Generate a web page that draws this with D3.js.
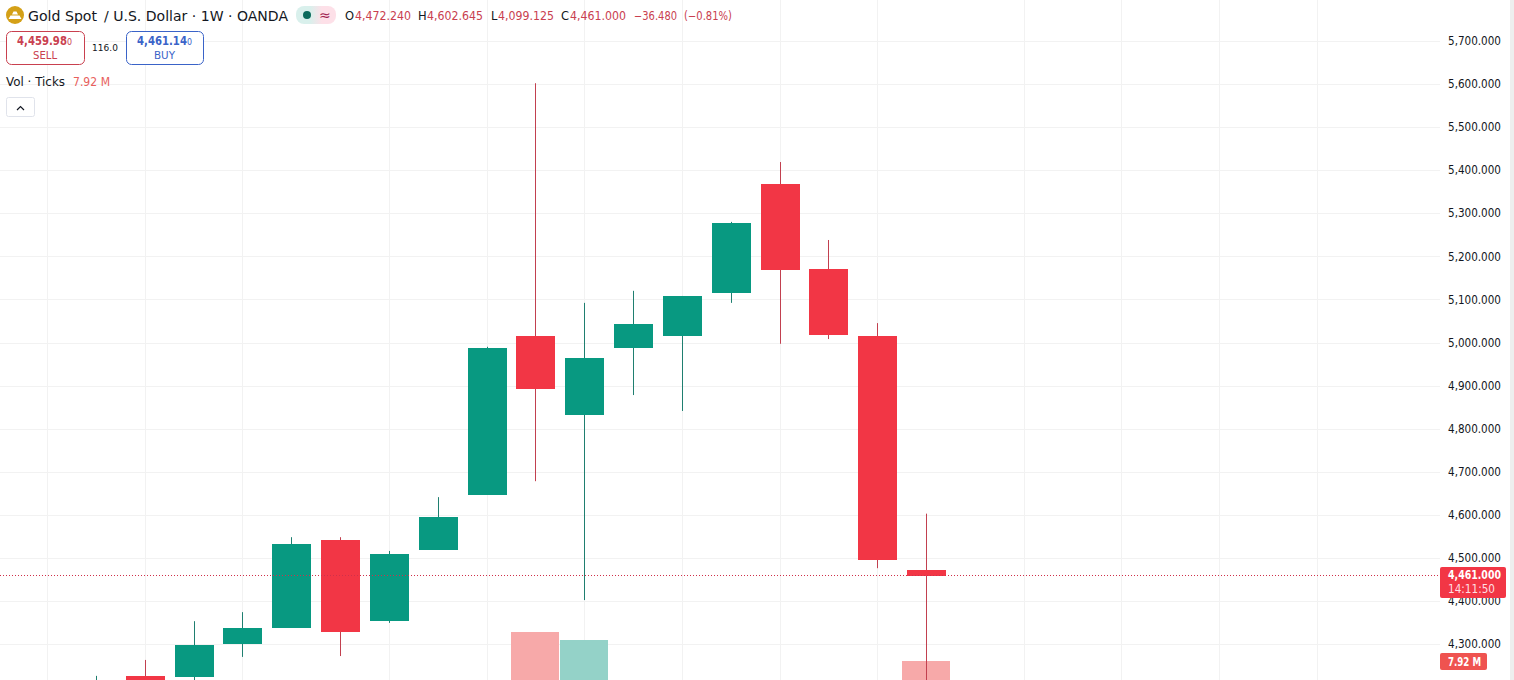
<!DOCTYPE html>
<html><head><meta charset="utf-8">
<script src="https://cdn.jsdelivr.net/npm/d3@7"></script>
<style>
html,body{margin:0;padding:0;background:#fff;overflow:hidden}
svg{display:block}
text{font-family:"DejaVu Sans",Verdana,sans-serif}
</style></head><body><svg id="c" width="1514" height="680"></svg>
<script>
const slots=d3.range(0,27).map(i=>"W"+String(i).padStart(2,"0"));
const weeks=["W01","W02","W03","W04","W05","W06","W07","W08","W09","W10","W11","W12","W13","W14","W15","W16","W17","W18"];
const opens =[4180,4226,4225,4302,4339,4541,4355,4520,4648,5015,4834,4989,5017,5117,5368,5171,5015,4472.24];
const highs =[4226,4263,4353,4374,4548,4548,4516,4641,4990,5602,5092,5120,5108,5280,5419,5238,5045,4602.645];
const lows  =[4150,4170,4200,4270,4339,4272,4349,4520,4648,4678,4402,4878,4841,5092,4997,5008,4476,4099.125];
const closes=[4210,4190,4298,4337,4532,4330,4509,4595,4987,4894,4964,5043,5108,5277,5170,5019,4497.48,4461];
const volumes=[2.6,2.9,3.3,3.0,3.6,3.4,3.2,3.8,5.8,10.24,9.6,5.2,4.6,4.8,5.6,5.0,6.2,7.92];
const priceTicks=[4300,4400,4500,4600,4700,4800,4900,5000,5100,5200,5300,5400,5500,5600,5700];
const gridWeeks=["W00","W02","W04","W07","W09","W11","W13","W15","W17","W20","W22","W24","W26"];
const lastPrice=4461, lastVol="7.92 M";
const up="#089981",down="#f23645";

const svg=d3.select("#c");
const step=48.84;
const x=d3.scaleBand().domain(slots).range([47-step/2,47-step/2+step*slots.length]);
const cx=d=>Math.round(x(d)+x.bandwidth()/2);
const y=d3.scaleLinear().domain([4300,5700]).range([644,41]);
const vy=d3.scaleLinear().domain([0,7.92]).range([760,661]);
const isUp=i=>closes[i]>=opens[i];

// grid
svg.append("g").selectAll("line").data(priceTicks).join("line")
 .attr("x1",0).attr("x2",1440).attr("y1",d=>Math.round(y(d))+.5).attr("y2",d=>Math.round(y(d))+.5)
 .attr("stroke","#f2f2f2");
svg.append("g").selectAll("line").data(gridWeeks).join("line")
 .attr("x1",d=>cx(d)+.5).attr("x2",d=>cx(d)+.5).attr("y1",0).attr("y2",680)
 .attr("stroke","#f2f2f2");

// volume
const idx=weeks.map((w,i)=>i);
svg.append("g").selectAll("rect").data(idx).join("rect")
 .attr("x",i=>cx(weeks[i])-24).attr("width",48)
 .attr("y",i=>vy(volumes[i])).attr("height",i=>760-vy(volumes[i]))
 .attr("fill",i=>isUp(i)?"#94d2c8":"#f7a9a9");

// candles
const g=svg.append("g");
g.selectAll("line").data(idx).join("line")
 .attr("x1",i=>cx(weeks[i])+.5).attr("x2",i=>cx(weeks[i])+.5)
 .attr("y1",i=>y(highs[i])).attr("y2",i=>y(lows[i]))
 .attr("stroke",i=>isUp(i)?"#1f7f70":"#c2404f");
g.selectAll("rect").data(idx).join("rect")
 .attr("x",i=>cx(weeks[i])-19).attr("width",39)
 .attr("y",i=>Math.round(y(Math.max(opens[i],closes[i]))))
 .attr("height",i=>Math.round(y(Math.min(opens[i],closes[i])))-Math.round(y(Math.max(opens[i],closes[i])))+1)
 .attr("fill",i=>isUp(i)?up:down);

// last price line
svg.append("line").attr("x1",0).attr("x2",1440)
 .attr("y1",Math.round(y(lastPrice))+.5).attr("y2",Math.round(y(lastPrice))+.5)
 .attr("stroke","#d0304a").attr("stroke-dasharray","1 2");

// price axis
const ax=d3.axisRight(y).tickValues(priceTicks).tickSize(0).tickPadding(0)
 .tickFormat(d=>d3.format(",")(d)+".000");
const axg=svg.append("g").attr("transform","translate(1448,0)").call(ax);
axg.select(".domain").remove();
axg.selectAll("text").attr("font-size",11.5).attr("fill","#131722").attr("textLength",53).attr("lengthAdjust","spacingAndGlyphs");

// right strip
svg.append("rect").attr("x",1510).attr("width",4).attr("height",680).attr("fill","#eeeeee");

function label(t,xp,yp,size,col,len,weight){
 const e=svg.append("text").attr("x",xp).attr("y",yp).attr("font-size",size).attr("fill",col).text(t);
 if(len) e.attr("textLength",len).attr("lengthAdjust","spacingAndGlyphs");
 if(weight) e.attr("font-weight",weight);
 return e;
}
// price tags
svg.append("rect").attr("x",1440).attr("y",567).attr("width",66).attr("height",31).attr("rx",2).attr("fill",down);
label("4,461.000",1448,579,11.5,"#fff",53,700);
label("14:11:50",1448,593,11.5,"#ffdfe2",47);
svg.append("rect").attr("x",1440).attr("y",653).attr("width",47).attr("height",17).attr("rx",2).attr("fill","#ef5350");
label(lastVol,1448,666,11.5,"#fff",33,700);

// header
svg.append("circle").attr("cx",15).attr("cy",15).attr("r",9).attr("fill","#d4a017");
svg.append("path").attr("d","M8.5 19h13l-2-3.5h-9zM12 14.5h6l-1.500-3h-3z").attr("fill","#fff");
label("Gold Spot",28,21,14.5,"#131722",69);
label("/ U.S. Dollar · 1W · OANDA",104,21,14.5,"#131722",184);
const grad=svg.append("defs").append("linearGradient").attr("id","pill");
grad.append("stop").attr("offset","35%").attr("stop-color","#d9f0ec");
grad.append("stop").attr("offset","65%").attr("stop-color","#fde0e8");
svg.append("rect").attr("x",296).attr("y",6).attr("width",40).attr("height",18).attr("rx",8).attr("fill","url(#pill)");
svg.append("circle").attr("cx",307).attr("cy",15).attr("r",4).attr("fill","#0b6b5c");
label("≈",319,20,14,"#a02050");

const red="#c9404f",ink="#131722";
[["O",345,ink,0],["4,472.240",355,red,56],["H",418,ink,0],["4,602.645",427,red,56],["L",491,ink,0],["4,099.125",498,red,56],["C",561,ink,0],["4,461.000",570,red,56],["−36.480",634,red,43],["(−0.81%)",684,red,48]]
 .forEach(([t,xp,c,l])=>label(t,xp,20,11.5,c,l));

function btn(xp,w,col,a,ax0,lab,lx,llen){
 svg.append("rect").attr("x",xp+.5).attr("y",31.5).attr("width",w).attr("height",33).attr("rx",5).attr("fill","#fff").attr("stroke",col);
 const t=svg.append("text").attr("transform",`translate(${ax0},45) scale(.88,1)`).attr("fill",col);
 t.append("tspan").attr("font-size",11.5).attr("font-weight",700).text(a);
 t.append("tspan").attr("font-size",9).text("0");
 label(lab,lx,59,10,col,llen);
}
btn(6,78,"#c9404f","4,459.98",17,"SELL",33,24);
btn(126,77,"#3a63c8","4,461.14",137,"BUY",154,21);
svg.append("text").attr("x",105).attr("y",51).attr("text-anchor","middle").attr("font-size",9).attr("fill",ink).text("116.0");

label("Vol · Ticks",6,86,12,ink,59);
label(lastVol,73,86,11.5,"#e8605c",37);

svg.append("rect").attr("x",6.5).attr("y",97.5).attr("width",28).attr("height",19).attr("rx",2).attr("fill","#fff").attr("stroke","#e0e3eb");
svg.append("path").attr("d","M17 110l3.500-3.500 3.500 3.500").attr("fill","none").attr("stroke",ink).attr("stroke-width",1.2);
</script></body></html>
